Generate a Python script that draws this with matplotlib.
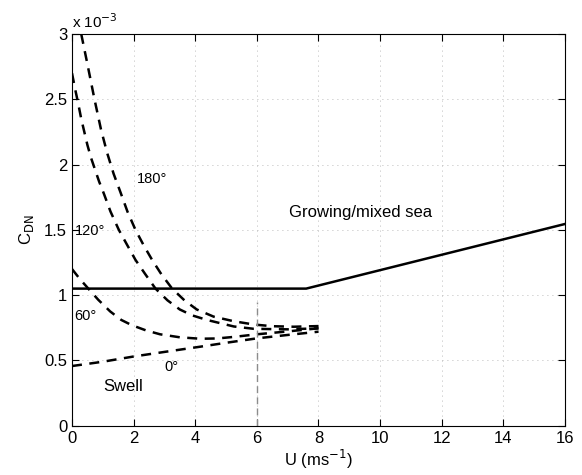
import matplotlib
matplotlib.use("Agg")
import matplotlib.pyplot as plt

plt.rcParams['font.family'] = ['Liberation Sans', 'DejaVu Sans']

# drag coefficient, units of 1e-3
u_mixed = [0, 7.6, 16]
c_mixed = [1.05, 1.05, 1.545]

u_180 = [0.3, 0.5, 0.73, 0.94, 1.14, 1.35, 1.57, 1.8, 2.06, 2.33, 2.6, 2.9, 3.25,
         3.65, 4.05, 4.6, 5.25, 5.9, 6.5, 7.2, 8.0]
c_180 = [3.0, 2.77, 2.5, 2.27, 2.09, 1.93, 1.79, 1.64, 1.5, 1.38, 1.27, 1.16, 1.05,
         0.96, 0.89, 0.835, 0.80, 0.775, 0.762, 0.758, 0.763]

u_120 = [0, 0.1, 0.2, 0.3, 0.4, 0.5, 0.62, 0.75, 0.88, 1.03, 1.25, 1.52, 1.8, 2.06,
         2.38, 2.71, 3.1, 3.5, 3.9, 4.38, 5.25, 5.9, 7.0, 8.0]
c_120 = [2.7, 2.58, 2.47, 2.35, 2.25, 2.15, 2.05, 1.96, 1.87, 1.78, 1.64, 1.5, 1.38, 1.27,
         1.16, 1.05, 0.96, 0.89, 0.845, 0.81, 0.76, 0.742, 0.738, 0.746]

u_60 = [0, 0.25, 0.53, 0.85, 1.24, 1.6, 1.94, 2.4, 2.86, 3.5, 4.16, 4.7, 5.25, 6.0, 7.0, 8.0]
c_60 = [1.2, 1.125, 1.05, 0.965, 0.875, 0.81, 0.77, 0.73, 0.70, 0.677, 0.666, 0.668, 0.68, 0.70, 0.722, 0.746]

u_0 = [0, 1, 2, 3, 4.16, 5, 6, 7, 8]
c_0 = [0.457, 0.49, 0.53, 0.565, 0.605, 0.635, 0.669, 0.695, 0.72]

xticks = [0, 2, 4, 6, 8, 10, 12, 14, 16]
yticks = [0, 0.5, 1, 1.5, 2, 2.5, 3]
yticklabels = ['0', '0.5', '1', '1.5', '2', '2.5', '3']

fig = plt.figure(figsize=(5.82, 4.75), dpi=100)
ax = fig.add_axes([0.1237, 0.1038, 0.8471, 0.8246])

ax.plot(u_mixed, c_mixed, 'k-', lw=1.8)
for u, c in [(u_180, c_180), (u_120, c_120), (u_60, c_60), (u_0, c_0)]:
    ax.plot(u, c, 'k', lw=1.8, dashes=(4, 3))

# marker at U = 6
ax.plot([6, 6], [0, 0.95], color='0.55', lw=1, dashes=(5, 3))

ax.set_xlim(0, 16)
ax.set_ylim(0, 3)
ax.set_xticks(xticks)
ax.set_yticks(yticks)
ax.set_yticklabels(yticklabels)
ax.tick_params(direction='in', top=True, right=True, labelsize=12, length=5)
ax.grid(True, color='0.65', lw=0.6, linestyle=(0, (1, 5)))

ax.text(2.1, 1.89, '180°', fontsize=10.5, va='center')
ax.text(0.1, 1.49, '120°', fontsize=10.5, va='center')
ax.text(0.07, 0.84, '60°', fontsize=10.5, va='center')
ax.text(3.0, 0.45, '0°', fontsize=10.5, va='center')
ax.text(1.0, 0.30, 'Swell', fontsize=12, va='center')
ax.text(7.03, 1.63, 'Growing/mixed sea', fontsize=12, va='center')

ax.text(0, 3.02, 'x 10$^{-3}$', fontsize=11, va='bottom', ha='left')
ax.set_xlabel('U (ms$^{-1}$)', fontsize=12, labelpad=2)
ax.set_ylabel('C$_{\\mathrm{DN}}$', fontsize=12, labelpad=6)

fig.savefig('out.png', dpi=100)
